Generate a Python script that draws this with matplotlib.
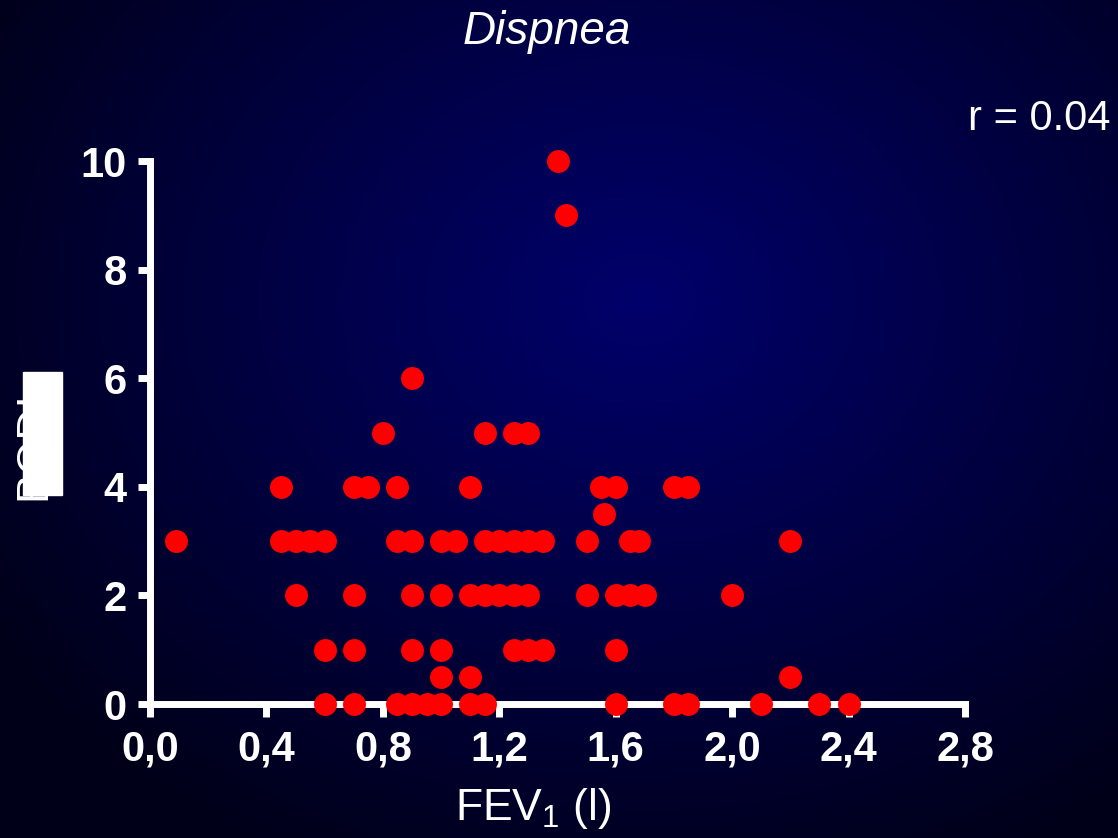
import numpy as np
import matplotlib
matplotlib.use("Agg")
import matplotlib.pyplot as plt
from matplotlib.patches import Rectangle

plt.rcParams["font.family"] = ["Liberation Sans", "DejaVu Sans"]

# ========= data =========

# FEV1 (l) of each patient, listed row by row of the dyspnea score
fev1 = [
    1.40,
    1.43,
    0.90,
    0.80, 1.15, 1.25, 1.30,
    0.45, 0.70, 0.75, 0.85, 1.10, 1.55, 1.60, 1.80, 1.85,
    1.56,
    0.09, 0.45, 0.50, 0.55, 0.60, 0.85, 0.90, 1.00, 1.05, 1.15, 1.20, 1.25,
    1.30, 1.35, 1.50, 1.65, 1.68, 2.20,
    0.50, 0.70, 0.90, 1.00, 1.10, 1.15, 1.20, 1.25, 1.30, 1.50, 1.60, 1.65,
    1.70, 2.00,
    0.60, 0.70, 0.90, 1.00, 1.25, 1.30, 1.35, 1.60,
    1.00, 1.10, 2.20,
    0.60, 0.70, 0.85, 0.90, 0.95, 1.00, 1.10, 1.15, 1.60, 1.80, 1.85, 2.10,
    2.30, 2.40,
]
dyspnea = (
    [10] + [9] + [6] + [5] * 4 + [4] * 9 + [3.5] + [3] * 18 + [2] * 14
    + [1] * 8 + [0.5] * 3 + [0] * 14
)

x_ticks = [0.0, 0.4, 0.8, 1.2, 1.6, 2.0, 2.4, 2.8]
y_ticks = [0, 2, 4, 6, 8, 10]
r_value = 0.04

W, H = 1118, 838
fig = plt.figure(figsize=(W / 100, H / 100), dpi=100)

# ========= background: radial navy glow =========
bg = fig.add_axes([0, 0, 1, 1], zorder=-10)
yy, xx = np.mgrid[0:H, 0:W]
cx, cy = 640, 300
d = np.hypot((xx - cx) / 760.0, (yy - cy) / 620.0)
d = np.clip(d, 0, 1)
center = np.array([0.0, 0.0, 0.42])
edge = np.array([0.0, 0.0, 0.10])
img = center[None, None, :] * (1 - d[..., None]) + edge[None, None, :] * d[..., None]
bg.imshow(img, aspect="auto", extent=[0, 1, 0, 1], origin="upper")
bg.set_axis_off()

# ========= scatter =========
ax = fig.add_axes([150 / W, 1 - 704 / H, (965 - 150) / W, (704 - 161) / H])
ax.set_facecolor("none")
ax.plot(fev1, dyspnea, "o", color="#ff0000", markersize=16.5,
        markeredgewidth=0, clip_on=False, zorder=5)

ax.set_xlim(0, 2.8)
ax.set_ylim(0, 10)
ax.set_xticks(x_ticks)
ax.set_xticklabels([f"{t:.1f}".replace(".", ",") for t in x_ticks])
ax.set_yticks(y_ticks)
ax.set_yticklabels([str(t) for t in y_ticks])

for side in ("top", "right"):
    ax.spines[side].set_visible(False)
for side in ("left", "bottom"):
    ax.spines[side].set_color("white")
    ax.spines[side].set_linewidth(5)
    ax.spines[side].set_capstyle("projecting")

ax.tick_params(colors="white", width=5, length=9, direction="out",
               labelsize=30)
ax.tick_params(axis="x", pad=9)
ax.tick_params(axis="y", pad=8)
for lab in ax.get_xticklabels() + ax.get_yticklabels():
    lab.set_fontweight("bold")

# ========= texts =========
fig.text(547 / W, 1 - 32 / H, "Dispnea", color="white", fontsize=33,
         style="italic", ha="center", va="center")
fig.text(968 / W, 1 - 119 / H, f"r = {r_value:.2f}", color="white",
         fontsize=30, ha="left", va="center")
fig.text(533 / W, 1 - 808 / H, r"FEV$_\mathregular{1}$ (l)", color="white",
         fontsize=32, ha="center", va="center")

fig.text(34 / W, 1 - 446 / H, "BODI", color="white", fontsize=32,
         rotation=90, ha="center", va="center")
fig.add_artist(Rectangle((23 / W, 1 - 495 / H), 39 / W, 123 / H,
                         transform=fig.transFigure, color="white", zorder=10))

fig.savefig("out.png", dpi=100)
